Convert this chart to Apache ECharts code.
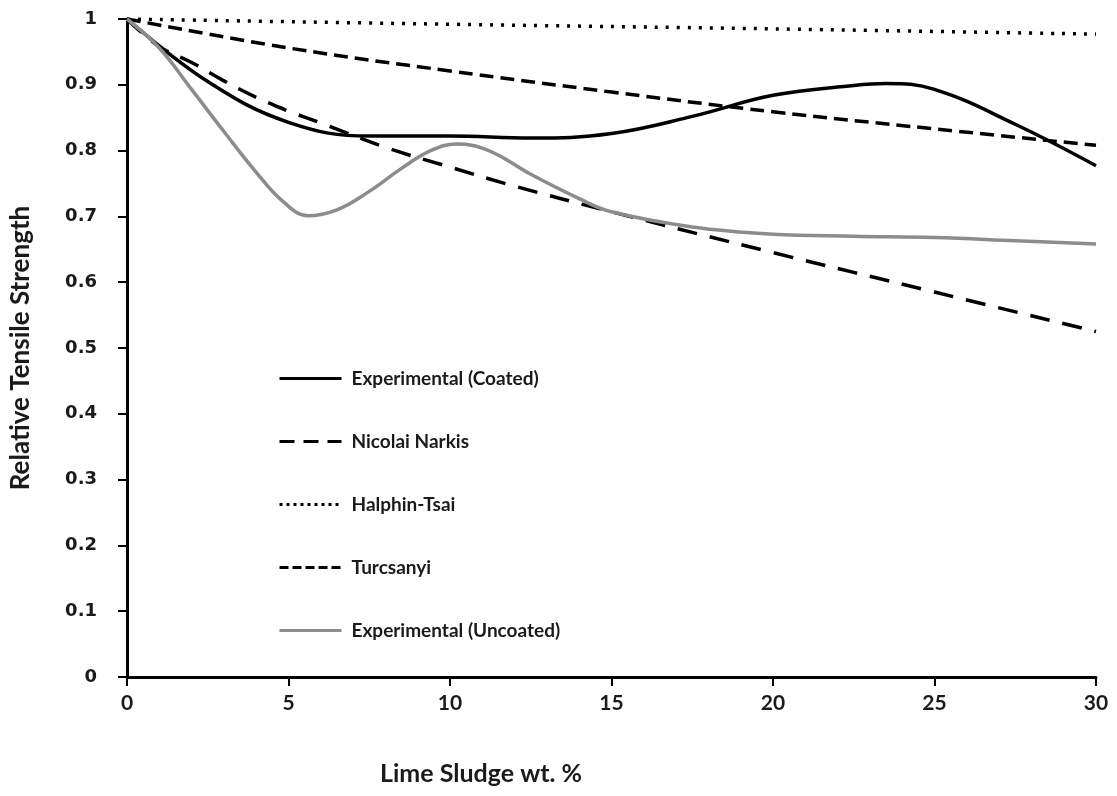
<!DOCTYPE html>
<html>
<head>
<meta charset="utf-8">
<script src="https://cdn.jsdelivr.net/npm/echarts@6/dist/echarts.min.js"></script>
<style>
  html, body { margin: 0; padding: 0; background: #ffffff; }
  #chart { width: 1117px; height: 796px; }
</style>
</head>
<body>
<div id="chart"></div>
<script>
// Relative tensile strength vs. lime sludge loading: experiments and model predictions
const seriesNames = [
  'Experimental (Coated)',
  'Nicolai Narkis',
  'Halphin-Tsai',
  'Turcsanyi',
  'Experimental (Uncoated)'
];

// [wt.%, relative strength] pairs
const coated = [
  [0, 1.0], [2.5, 0.905], [5, 0.843], [7.5, 0.822], [10, 0.822], [12.5, 0.819],
  [15, 0.826], [17.5, 0.852], [20, 0.884], [22.5, 0.899], [23.5, 0.902],
  [25, 0.893], [27.5, 0.84], [30, 0.777]
];
const narkis = [
  [0, 1.0], [1, 0.958], [2, 0.934], [3, 0.906], [4, 0.881], [5, 0.86], [6, 0.842],
  [8, 0.805], [10, 0.775], [12, 0.746], [15, 0.707], [20, 0.645], [25, 0.585], [30, 0.525]
];
const halpin = [
  [0, 1.0], [10, 0.992], [20, 0.985], [30, 0.977]
];
const turcsanyi = [
  [0, 1.0], [5, 0.956], [10, 0.921], [15, 0.889], [20, 0.859], [25, 0.833], [30, 0.808]
];
const uncoated = [
  [0, 1.0], [1, 0.956], [2, 0.893], [3, 0.829], [4, 0.767], [4.8, 0.724], [5.6, 0.701],
  [6.5, 0.71], [7.5, 0.738], [8.5, 0.773], [9.4, 0.8], [10.2, 0.81], [11.2, 0.8],
  [12.5, 0.764], [14, 0.727], [15, 0.707], [17.5, 0.684], [20, 0.673], [22.5, 0.67],
  [25, 0.668], [27.5, 0.663], [30, 0.658]
];

const xTicks = [0, 5, 10, 15, 20, 25, 30];
const xTitle = 'Lime Sludge wt. %';
const yTitle = 'Relative Tensile Strength';

// line styles per series: [colour, plot dash, legend dash]
const styles = [
  ['#000000', 'solid', 'solid'],
  ['#000000', [20, 13], [15, 9]],
  ['#000000', [3, 8], [3, 4]],
  ['#000000', [14, 7], [9, 4]],
  ['#8c8c8c', 'solid', 'solid']
];
const datasets = [coated, narkis, halpin, turcsanyi, uncoated];

const chart = echarts.init(document.getElementById('chart'), null, { renderer: 'canvas' });

const series = seriesNames.map(function (name, i) {
  return {
    name: name,
    type: 'line',
    data: datasets[i],
    smooth: 0.4,
    symbol: 'none',
    lineStyle: { color: styles[i][0], width: 3.5, type: styles[i][1] },
    itemStyle: { color: styles[i][0] },
    emphasis: { disabled: true },
    z: 3
  };
});

const legendData = seriesNames.map(function (name, i) {
  return {
    name: name,
    lineStyle: { color: styles[i][0], width: 3, type: styles[i][2] }
  };
});

const option = {
  animation: false,
  backgroundColor: '#ffffff',
  grid: { left: 126, right: 21, top: 19, bottom: 119, containLabel: false },
  legend: {
    orient: 'vertical',
    left: 273,
    top: 364,
    itemWidth: 62,
    itemHeight: 14,
    itemGap: 44,
    itemStyle: { opacity: 0 },
    lineStyle: { width: 3 },
    textStyle: {
      fontFamily: 'Lato', fontWeight: 'bold', fontSize: 19, color: '#1a1a1a',
      padding: [0, 0, 0, 5]
    },
    data: legendData
  },
  xAxis: {
    type: 'value',
    min: 0,
    max: 30,
    interval: 5,
    axisLine: { show: true, lineStyle: { color: '#000', width: 3 } },
    axisTick: { show: true, length: 9, lineStyle: { color: '#000', width: 2 } },
    splitLine: { show: false },
    axisLabel: {
      margin: 16,
      fontFamily: 'Lato',
      fontWeight: 'bold',
      fontSize: 21,
      color: '#1a1a1a',
      customValues: xTicks
    }
  },
  yAxis: {
    type: 'value',
    min: 0,
    max: 1,
    interval: 0.1,
    name: yTitle,
    nameLocation: 'middle',
    nameGap: 93,
    nameRotate: 90,
    nameTextStyle: { fontFamily: 'Lato', fontWeight: 'bold', fontSize: 26, color: '#1a1a1a' },
    axisLine: { show: true, lineStyle: { color: '#000', width: 3 } },
    axisTick: { show: true, length: 9, lineStyle: { color: '#000', width: 2 } },
    splitLine: { show: false },
    axisLabel: {
      margin: 30,
      fontFamily: 'DejaVu Sans',
      fontWeight: 'bold',
      fontSize: 18,
      color: '#1a1a1a',
      formatter: function (v) {
        const r = Math.round(v * 10) / 10;
        return r === 0 ? '0' : (r === 1 ? '1' : r.toFixed(1));
      }
    }
  },
  graphic: [{
    type: 'text',
    left: 380,
    top: 761,
    style: {
      text: xTitle,
      font: 'bold 25px Lato',
      fill: '#1a1a1a'
    }
  }],
  series: series
};

chart.setOption(option);
</script>
</body>
</html>
